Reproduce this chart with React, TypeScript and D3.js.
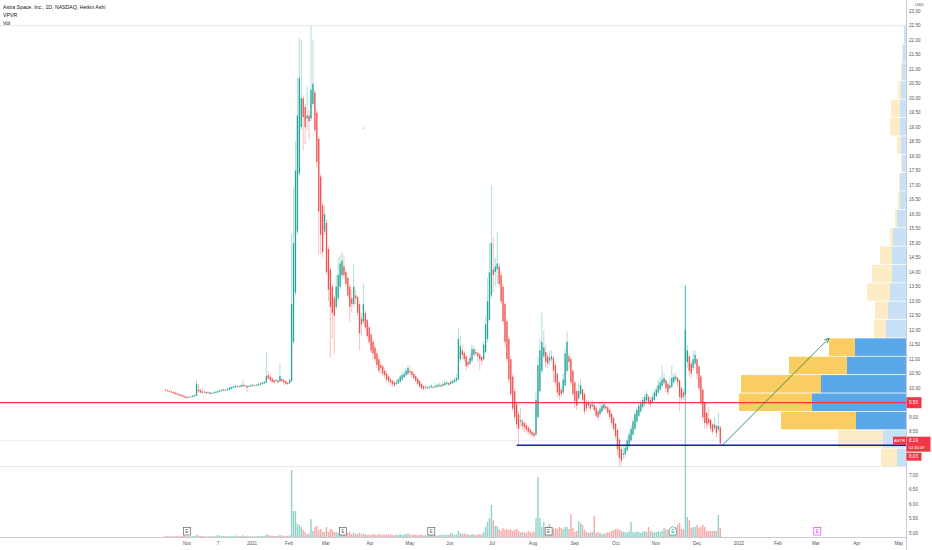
import React from "react";
import * as d3 from "d3";

// Heikin Ashi candles, one per trading day: [open, high, low, close]
const heikinAshi: [number, number, number, number][] = [
  [9.95, 9.98, 9.89, 9.92], [9.93, 9.95, 9.88, 9.9], [9.91, 9.93, 9.86, 9.88], [9.89, 9.91, 9.84, 9.86], [9.87, 9.89, 9.81, 9.83],
  [9.85, 9.87, 9.78, 9.8], [9.82, 9.84, 9.76, 9.78], [9.8, 9.82, 9.74, 9.76], [9.78, 9.8, 9.71, 9.73], [9.75, 9.77, 9.68, 9.7],
  [9.72, 9.74, 9.65, 9.67], [9.7, 9.72, 9.63, 9.66], [9.68, 9.72, 9.66, 9.7], [9.69, 9.74, 9.67, 9.72], [9.7, 9.76, 9.68, 9.74],
  [9.72, 9.78, 9.7, 9.76], [9.74, 10.3, 9.72, 10.15], [9.95, 10.15, 9.85, 9.9], [9.93, 9.98, 9.83, 9.85], [9.89, 10.0, 9.82, 9.84],
  [9.86, 9.92, 9.84, 9.88], [9.87, 9.9, 9.79, 9.82], [9.84, 9.89, 9.82, 9.86], [9.85, 9.87, 9.78, 9.8], [9.82, 9.86, 9.8, 9.84],
  [9.83, 9.88, 9.81, 9.86], [9.84, 9.9, 9.82, 9.88], [9.86, 9.93, 9.84, 9.9], [9.88, 9.95, 9.86, 9.92], [9.9, 9.97, 9.88, 9.94],
  [9.92, 9.99, 9.9, 9.96], [9.94, 9.96, 9.9, 9.93], [9.93, 10.01, 9.91, 9.98], [9.95, 10.05, 9.93, 10.02], [9.98, 10.07, 9.96, 10.04],
  [10.01, 10.08, 9.99, 10.05], [10.03, 10.17, 10.01, 10.08], [10.05, 10.11, 10.03, 10.08], [10.07, 10.09, 10.01, 10.04], [10.05, 10.13, 10.03, 10.1],
  [10.07, 10.28, 10.05, 10.12], [10.1, 10.12, 10.04, 10.07], [10.08, 10.1, 9.87, 10.02], [10.05, 10.11, 10.03, 10.08], [10.06, 10.13, 10.04, 10.1],
  [10.08, 10.15, 10.06, 10.12], [10.1, 10.13, 10.05, 10.08], [10.09, 10.15, 10.07, 10.12], [10.1, 10.18, 10.08, 10.15], [10.12, 10.2, 10.1, 10.17],
  [10.15, 10.23, 10.13, 10.2], [10.17, 10.25, 10.15, 10.22], [10.2, 11.24, 10.18, 10.42], [10.45, 10.6, 10.3, 10.34], [10.4, 10.5, 10.2, 10.28],
  [10.34, 10.38, 10.18, 10.22], [10.28, 10.3, 10.16, 10.2], [10.24, 10.32, 10.22, 10.28], [10.26, 10.28, 10.16, 10.2], [10.23, 10.86, 10.21, 10.42],
  [10.32, 10.36, 10.2, 10.25], [10.28, 10.3, 10.1, 10.2], [10.24, 10.26, 10.12, 10.15], [10.2, 10.22, 10.1, 10.14], [10.17, 10.32, 10.15, 10.28],
  [10.25, 15.3, 10.2, 12.9], [11.6, 16.9, 11.5, 15.0], [13.3, 18.5, 13.2, 17.5], [15.4, 20.7, 15.3, 19.4], [17.4, 22.1, 17.3, 20.7],
  [19.0, 22.0, 18.9, 20.0], [20.0, 20.1, 18.2, 19.35], [19.7, 19.8, 18.4, 19.0], [19.3, 20.4, 18.9, 19.4], [19.4, 19.6, 18.6, 19.2],
  [19.3, 22.5, 19.2, 20.3], [19.8, 22.0, 19.7, 20.5], [20.2, 20.3, 18.8, 18.9], [19.5, 19.6, 17.6, 17.8], [18.6, 18.7, 14.6, 16.1],
  [17.3, 17.4, 14.6, 15.3], [16.3, 16.4, 14.5, 14.7], [15.4, 16.3, 15.3, 16.0], [15.7, 15.8, 13.9, 14.0], [14.8, 14.9, 13.0, 13.4],
  [14.1, 14.2, 11.06, 12.8], [13.5, 13.6, 11.7, 12.6], [13.1, 13.2, 11.2, 12.5], [12.8, 13.9, 12.7, 13.5], [13.1, 14.5, 13.0, 13.9],
  [13.5, 14.6, 13.4, 14.3], [13.9, 14.7, 13.8, 14.4], [14.2, 14.6, 13.8, 13.9], [14.0, 14.1, 13.5, 13.6], [13.8, 13.9, 13.1, 13.2],
  [13.5, 13.6, 12.3, 12.8], [13.1, 13.4, 12.6, 12.9], [12.9, 14.3, 12.8, 13.5], [13.2, 13.4, 12.9, 13.1], [13.15, 13.2, 12.5, 12.6],
  [12.9, 13.0, 11.3, 11.9], [12.4, 12.6, 11.8, 12.2], [12.3, 13.6, 12.2, 12.9], [12.6, 12.7, 12.0, 12.1], [12.35, 12.4, 11.7, 11.8],
  [12.1, 12.2, 11.5, 11.6], [11.85, 11.9, 11.2, 11.3], [11.6, 11.7, 11.0, 11.2], [11.4, 11.5, 10.9, 11.0], [11.2, 11.3, 10.7, 10.8],
  [11.0, 11.1, 10.5, 10.6], [10.8, 10.9, 10.5, 10.7], [10.75, 10.8, 10.4, 10.5], [10.6, 10.7, 10.3, 10.45], [10.5, 10.6, 10.2, 10.3],
  [10.4, 10.45, 10.15, 10.25], [10.3, 10.35, 10.1, 10.2], [10.25, 10.3, 10.05, 10.15], [10.2, 10.25, 10.05, 10.1], [10.15, 10.3, 10.1, 10.2],
  [10.17, 10.35, 10.15, 10.3], [10.23, 10.45, 10.2, 10.4], [10.3, 10.55, 10.25, 10.45], [10.38, 10.6, 10.35, 10.5], [10.45, 10.7, 10.4, 10.6],
  [10.5, 10.8, 10.45, 10.7], [10.6, 10.75, 10.45, 10.55], [10.58, 10.6, 10.35, 10.45], [10.5, 10.55, 10.3, 10.35], [10.42, 10.45, 10.2, 10.25],
  [10.33, 10.35, 10.1, 10.15], [10.25, 10.3, 10.0, 10.05], [10.15, 10.2, 9.95, 10.0], [10.08, 10.1, 9.92, 9.98], [10.03, 10.12, 9.95, 10.05],
  [10.04, 10.1, 9.95, 10.0], [10.02, 10.1, 9.97, 10.04], [10.03, 10.15, 10.0, 10.08], [10.05, 10.08, 9.97, 10.02], [10.03, 10.2, 10.0, 10.07],
  [10.05, 10.15, 10.02, 10.1], [10.07, 10.2, 10.03, 10.12], [10.1, 10.15, 10.0, 10.06], [10.08, 10.25, 10.05, 10.14], [10.11, 10.3, 10.08, 10.18],
  [10.15, 10.25, 10.1, 10.2], [10.18, 10.22, 10.08, 10.12], [10.15, 10.3, 10.12, 10.22], [10.18, 10.32, 10.15, 10.25], [10.22, 10.38, 10.18, 10.3],
  [10.26, 10.5, 10.2, 10.35], [10.3, 12.1, 10.28, 11.7], [11.0, 11.8, 10.9, 11.45], [11.3, 11.5, 11.0, 11.15], [11.22, 11.3, 10.9, 11.0],
  [11.1, 11.15, 10.6, 10.75], [10.9, 11.0, 10.7, 10.8], [10.85, 11.2, 10.8, 11.05], [10.95, 11.5, 10.9, 11.35], [11.15, 11.45, 11.1, 11.35],
  [11.25, 11.35, 11.1, 11.2], [11.22, 11.25, 10.9, 11.1], [11.16, 11.2, 10.6, 11.0], [11.08, 11.1, 10.8, 10.95], [11.0, 11.6, 10.95, 11.5],
  [11.25, 12.5, 11.2, 12.2], [11.7, 13.8, 11.6, 13.0], [12.35, 15.0, 12.3, 14.0], [13.2, 17.0, 13.1, 15.0], [14.1, 15.2, 13.3, 13.9],
  [14.0, 14.5, 13.5, 14.2], [14.1, 15.4, 13.6, 14.3], [14.2, 14.3, 13.5, 13.6], [13.9, 14.0, 12.9, 13.0], [13.5, 13.6, 12.2, 12.3],
  [12.9, 13.0, 11.4, 11.6], [12.3, 12.4, 10.9, 11.0], [11.7, 11.8, 10.2, 10.3], [11.0, 11.1, 9.7, 9.8], [10.4, 10.5, 9.2, 9.3],
  [9.9, 10.0, 8.9, 9.0], [9.45, 9.55, 8.6, 8.75], [9.1, 9.2, 8.05, 8.6], [8.85, 9.3, 8.7, 8.9], [8.87, 8.95, 8.55, 8.7],
  [8.8, 8.85, 8.5, 8.65], [8.72, 8.8, 8.45, 8.58], [8.65, 8.7, 8.4, 8.5], [8.58, 8.62, 8.35, 8.45], [8.5, 8.55, 8.3, 8.4],
  [8.45, 8.5, 8.28, 8.35], [8.4, 9.9, 8.35, 9.6], [9.0, 11.1, 8.95, 10.8], [9.9, 11.7, 9.85, 11.3], [10.6, 12.6, 10.5, 11.6],
  [11.1, 12.0, 11.0, 11.4], [11.25, 11.5, 10.7, 10.9], [11.1, 11.2, 10.7, 10.85], [10.95, 11.3, 10.8, 11.05], [11.0, 11.3, 10.9, 11.1],
  [11.05, 11.1, 10.2, 10.6], [10.8, 10.9, 10.1, 10.2], [10.5, 10.55, 9.7, 9.85], [10.2, 10.25, 9.6, 9.75], [9.95, 10.05, 9.7, 9.8],
  [9.85, 10.5, 9.8, 10.3], [10.1, 11.4, 10.05, 11.2], [10.6, 11.95, 10.5, 11.6], [11.1, 11.2, 10.6, 10.9], [11.0, 11.05, 10.1, 10.2],
  [10.6, 10.65, 9.7, 9.8], [10.2, 10.25, 9.3, 9.55], [9.9, 9.95, 9.25, 9.4], [9.65, 10.2, 9.6, 9.9], [9.8, 10.3, 9.75, 10.1],
  [9.95, 10.0, 9.5, 9.6], [9.8, 9.85, 9.1, 9.2], [9.5, 9.6, 9.2, 9.3], [9.4, 9.6, 9.3, 9.5], [9.45, 9.55, 9.2, 9.3],
  [9.38, 9.6, 9.3, 9.45], [9.42, 9.5, 9.15, 9.25], [9.33, 9.4, 8.95, 9.05], [9.2, 9.25, 8.9, 9.0], [9.1, 9.5, 9.05, 9.3],
  [9.2, 9.55, 9.15, 9.4], [9.3, 9.5, 9.25, 9.45], [9.38, 9.45, 9.2, 9.3], [9.34, 9.4, 9.1, 9.15], [9.25, 9.3, 8.9, 9.0],
  [9.12, 9.15, 8.7, 8.8], [8.96, 9.0, 8.5, 8.6], [8.78, 8.8, 8.25, 8.35], [8.56, 8.6, 7.7, 7.9], [8.23, 8.3, 7.3, 7.6],
  [7.9, 8.0, 7.35, 7.5], [7.7, 8.0, 7.55, 7.75], [7.72, 8.1, 7.6, 7.95], [7.85, 8.3, 7.8, 8.2], [8.0, 8.5, 7.95, 8.4],
  [8.2, 8.7, 8.15, 8.6], [8.4, 8.95, 8.35, 8.85], [8.6, 9.2, 8.55, 9.1], [8.85, 9.35, 8.8, 9.25], [9.05, 9.5, 9.0, 9.4],
  [9.2, 9.6, 9.15, 9.5], [9.35, 9.7, 9.3, 9.6], [9.45, 9.8, 9.4, 9.7], [9.58, 9.9, 9.5, 9.8], [9.7, 9.75, 9.4, 9.5],
  [9.6, 9.7, 9.35, 9.45], [9.52, 9.8, 9.5, 9.7], [9.6, 9.95, 9.55, 9.85], [9.72, 10.05, 9.7, 9.95], [9.85, 10.3, 9.8, 10.1],
  [9.95, 10.4, 9.9, 10.2], [10.08, 10.8, 10.0, 10.3], [10.18, 10.5, 10.1, 10.35], [10.28, 10.3, 9.85, 10.0], [10.15, 10.2, 9.75, 9.85],
  [10.0, 10.4, 9.95, 10.1], [10.05, 10.8, 10.0, 10.35], [10.2, 10.5, 10.15, 10.4], [10.3, 10.55, 10.25, 10.4], [10.35, 10.4, 10.05, 10.2],
  [10.28, 10.3, 9.2, 9.7], [10.0, 10.05, 9.5, 9.65], [9.85, 9.95, 9.6, 9.7], [9.8, 13.5, 9.75, 12.0], [10.9, 11.5, 10.7, 11.3],
  [11.1, 11.2, 10.4, 10.6], [10.85, 10.95, 10.35, 10.5], [10.7, 11.3, 10.6, 11.0], [10.85, 11.3, 10.8, 11.15], [11.0, 11.05, 10.3, 10.5],
  [10.75, 10.8, 9.9, 10.0], [10.4, 10.45, 9.4, 9.5], [9.95, 10.0, 8.9, 9.0], [9.5, 9.55, 8.6, 8.8], [9.15, 9.2, 8.6, 8.75],
  [8.95, 9.35, 8.7, 8.8], [8.9, 8.95, 8.5, 8.6], [8.75, 8.8, 8.4, 8.5], [8.62, 9.0, 8.55, 8.75], [8.7, 8.75, 8.3, 8.45],
  [8.58, 9.15, 8.5, 8.7], [8.65, 8.7, 8.03, 8.1],
];

// daily volume, millions of shares
const volumeM = [
  0.4, 0.3, 0.3, 0.4, 0.3, 0.3, 0.4, 0.3, 0.3, 0.4, 0.5,
  0.4, 0.3, 0.3, 0.3, 0.4, 0.9, 0.6, 0.4, 0.4, 0.3,
  0.3, 0.3, 0.4, 0.3, 0.3, 0.5, 0.8, 0.6, 0.4, 0.4,
  0.3, 0.4, 0.4, 0.3, 0.4, 0.6, 0.4, 0.3, 0.4, 0.7,
  0.4, 0.5, 0.3, 0.3, 0.4, 0.3, 0.3, 0.4, 0.4, 0.5,
  0.4, 1.0, 0.8, 0.6, 0.5, 0.4, 0.4, 0.4, 0.8, 0.6,
  0.5, 0.4, 0.5, 0.6,
  26.6, 10.3, 10.3, 5.2, 4.8, 4.0, 2.8, 2.0, 1.2, 1.5,
  7.1, 2.4, 4.0, 4.4, 2.8, 3.2, 2.0, 2.0, 4.0, 2.0,
  3.2, 2.8, 2.0, 2.0, 1.6, 1.4, 1.2, 1.6, 1.2, 1.6,
  2.0, 1.2, 1.8, 1.2, 1.0, 1.6, 1.0, 1.4, 1.0, 0.8,
  1.0, 0.8, 1.2, 1.0, 0.8, 1.4, 0.8, 1.0, 0.8, 1.2,
  0.8, 1.0, 0.8, 0.7, 1.0, 0.8, 1.2, 0.8, 1.0, 1.2,
  1.4, 1.0, 0.8, 1.0, 0.8, 0.7, 0.8, 1.0, 0.6, 0.8,
  0.6, 0.8, 1.2, 0.7, 0.8, 0.6, 0.7, 0.8, 1.0, 0.8,
  1.0, 0.8, 1.6, 1.2, 0.8, 1.0,
  2.4, 1.6, 1.2, 1.4, 1.2, 1.0, 0.8, 1.2, 1.0, 0.8,
  1.0, 1.2, 1.0, 2.0, 4.0, 6.0, 7.5, 12.7,
  6.7, 4.4, 4.4, 3.2, 2.4, 3.6, 2.8, 3.2, 2.8, 3.0,
  2.4, 2.8, 3.2, 2.4, 1.8, 2.0, 1.8, 1.6, 2.4, 2.0, 1.8, 2.2,
  7.5, 23.8, 7.5, 4.0, 6.0, 3.6, 4.4, 5.2, 2.8, 3.2,
  3.6, 3.2, 4.0, 3.6, 3.2, 4.0, 4.0, 3.2, 9.1, 3.6,
  2.0, 2.4, 6.3, 5.6, 4.8, 2.8, 2.0, 1.6, 2.0, 2.0,
  8.3, 1.6, 2.0, 1.6, 1.2, 1.4, 1.6, 2.0, 1.8, 2.4,
  2.8, 3.2, 3.2, 2.8, 2.4, 2.0, 2.0, 1.8, 2.2, 6.0,
  2.0, 1.8, 2.2, 2.0, 1.6, 2.0, 2.4, 2.0, 4.0, 2.4,
  2.0, 1.8, 2.0, 2.2, 2.0, 2.4, 3.6, 3.0, 2.8, 3.0,
  2.4, 2.4, 4.0, 4.8, 5.6, 3.2, 3.0, 100, 7.9, 6.7,
  3.6, 4.0, 4.0, 4.8, 3.6, 4.0, 4.8, 4.0, 2.4, 2.4,
  2.4, 2.4, 2.4, 2.4, 8.7, 3.6,
];

// time axis: label and bar index it sits on
const timeTickLabels = ["Nov", "7", "2021", "Feb", "Mar", "Apr", "May", "Jun", "Jul", "Aug", "Sep", "Oct", "Nov", "Dec", "2022", "Feb", "Mar", "Apr", "May"];
const timeTickBars = [11.1, 27.1, 44.6, 63.7, 82.7, 105.4, 126, 146.6, 168.3, 189.4, 211, 232.2, 252.8, 274, 295.6, 315.7, 335.3, 356.4, 378];

// visible range volume profile, 24 rows from low to high (up / down volume)
const profileUp = [9, 23, 50, 94, 85, 59, 51, 20, 18, 16, 14, 14, 13, 9, 6, 6, 4, 5, 6, 6, 5, 4, 3, 2];
const profileDown = [16, 45, 75, 73, 80, 58, 26, 12, 13, 23, 20, 12, 3, 2, 2, 1, 1, 4, 10, 9, 3, 1, 1, 0];
const valueAreaRows = [2, 6];

const earningsBars = [11, 91.5, 137, 197.5, 261.5];
const upcomingEarningsBar = 336;

const resistancePrice = 9.5;
const supportPrice = 8.03;
const supportStartBar = 181;
const lastPrice = 8.19;
const arrowFrom = { bar: 287, price: 8.03 };
const arrowTo = { bar: 342, price: 11.72 };

const W = 932;
const H = 550;
const plotRight = 906;
const plotBottom = 537;
const UP = "#26a69a";
const DOWN = "#ef5350";
const RED = "#f23645";
const FONT = "'Liberation Sans', Arial, sans-serif";

export default function App() {
  const x = d3.scaleLinear().domain([0, heikinAshi.length - 1]).range([165.5, 720.3]);
  const y = d3.scaleLinear().domain([22.5, 5]).range([25.7, 533.2]);
  const vol = d3.scaleLinear().domain([0, d3.max(volumeM) ?? 1]).range([plotBottom, 285]);

  const lows = heikinAshi.map((d) => d[2]);
  const highs = heikinAshi.map((d) => d[1]);
  const rangeLow = d3.min(lows) ?? 0;
  const rangeHigh = d3.max(highs) ?? 0;
  const rowCount = profileUp.length;
  const rowH = (rangeHigh - rangeLow) / rowCount;
  const totals = profileUp.map((u, i) => u + profileDown[i]);
  const vp = d3.scaleLinear().domain([0, d3.max(totals) ?? 1]).range([0, 167]);

  // price scale labels; the ones hidden behind the price tags are left out
  const lastTop = y(lastPrice) - 4;
  const lastBottom = y(lastPrice) + 11;
  const priceTicks = d3
    .range(5, 23.01, 0.5)
    .filter((p) => Math.abs(p - resistancePrice) > 0.01)
    .filter((p) => y(p) < lastTop - 2 || y(p) > lastBottom + 12);

  const ax = x(arrowFrom.bar), ay = y(arrowFrom.price);
  const bx = x(arrowTo.bar), by = y(arrowTo.price);

  const label = (p: number) => p.toFixed(2);

  return (
    <svg width={W} height={H} style={{ position: "absolute", left: 0, top: 0, background: "#fff" }} fontFamily={FONT}>
      <defs>
        <marker id="arr" viewBox="0 0 10 10" refX="9" refY="5" markerWidth="7" markerHeight="7" orient="auto-start-reverse">
          <path d="M1,1 L9,5 L1,9" fill="none" stroke="#1b7f3b" strokeWidth={1.4} />
        </marker>
      </defs>
      <rect width={W} height={H} fill="#ffffff" />

      {/* volume profile */}
      {profileUp.map((u, i) => {
        const lo = rangeLow + i * rowH;
        const top = y(lo + rowH);
        const h = y(lo) - top - 0.8;
        const inVA = i >= valueAreaRows[0] && i <= valueAreaRows[1];
        const wu = vp(u);
        const wd = vp(profileDown[i]);
        return (
          <g key={i}>
            <rect x={plotRight - wu} y={top + 0.4} width={wu} height={h} fill={inVA ? "#5aa7ea" : "#c9e1f6"} />
            <rect x={plotRight - wu - wd} y={top + 0.4} width={wd} height={h} fill={inVA ? "#f9cd61" : "#fdecc6"} />
          </g>
        );
      })}

      {/* range lines */}
      <line x1={0} x2={plotRight} y1={y(rangeHigh)} y2={y(rangeHigh)} stroke="#dfe1e6" strokeWidth={0.8} />
      <line x1={0} x2={plotRight} y1={y(rangeLow)} y2={y(rangeLow)} stroke="#dfe1e6" strokeWidth={0.8} />
      <line x1={0} x2={plotRight} y1={y(lastPrice)} y2={y(lastPrice)} stroke="#cfd1d6" strokeWidth={0.7} strokeDasharray="1,1" />

      {/* volume */}
      {volumeM.map((v, i) => {
        const c = heikinAshi[i];
        const up = c[3] >= c[0];
        const top = vol(v);
        return (
          <rect key={i} x={x(i) - 0.7} y={top} width={1.4} height={Math.max(0.6, plotBottom - top)} fill={up ? UP : DOWN} fillOpacity={0.5} />
        );
      })}

      {/* candles */}
      {heikinAshi.map(([o, h, l, c], i) => {
        const up = c >= o;
        const col = up ? UP : DOWN;
        const cx = x(i);
        const t = y(Math.max(o, c));
        const b = y(Math.min(o, c));
        return (
          <g key={i}>
            <line x1={cx} x2={cx} y1={y(h)} y2={y(l)} stroke={col} strokeOpacity={0.45} strokeWidth={0.8} />
            <rect x={cx - 0.65} y={t} width={1.3} height={Math.max(0.8, b - t)} fill={col} />
          </g>
        );
      })}

      {/* horizontal levels */}
      <line x1={0} x2={plotRight} y1={y(resistancePrice)} y2={y(resistancePrice)} stroke={RED} strokeWidth={1.3} />
      <line x1={x(supportStartBar)} x2={plotRight} y1={y(supportPrice)} y2={y(supportPrice)} stroke="#14209a" strokeWidth={1.5} />

      {/* arrow */}
      <line x1={ax} y1={ay} x2={bx} y2={by} stroke="#1b7f3b" strokeWidth={0.8} markerEnd="url(#arr)" />

      <circle cx={x(102)} cy={y(18.97)} r={0.6} fill="#8a8d96" />

      {/* earnings */}
      {earningsBars.map((b, i) => {
        const cx = x(b);
        const last = i === earningsBars.length - 1;
        const col = last ? UP : "#5d606b";
        return (
          <g key={i}>
            {last ? (
              <path d={`M${cx - 3.5},529 L${cx},526.5 L${cx + 3.5},529 L${cx + 3.5},535 L${cx - 3.5},535 Z`} fill="#fff" stroke={col} strokeWidth={0.7} />
            ) : (
              <rect x={cx - 3.5} y={527.5} width={7} height={7.5} fill="#fff" stroke={col} strokeWidth={0.7} />
            )}
            <text x={cx} y={533} fontSize={4.6} textAnchor="middle" fill={col}>E</text>
          </g>
        );
      })}
      <g>
        <rect x={x(upcomingEarningsBar) - 3.5} y={527.5} width={7} height={7.5} fill="#fff" stroke="#e040fb" strokeWidth={0.7} />
        <text x={x(upcomingEarningsBar)} y={533} fontSize={4.6} textAnchor="middle" fill="#e040fb">E</text>
      </g>

      {/* axes */}
      <line x1={0} x2={plotRight} y1={plotBottom + 0.5} y2={plotBottom + 0.5} stroke="#b2b5be" strokeWidth={0.7} />
      <line x1={plotRight + 0.5} x2={plotRight + 0.5} y1={0} y2={H} stroke="#b2b5be" strokeWidth={0.7} />

      {priceTicks.map((p) => (
        <text key={p} x={909} y={y(p) + 1.6} fontSize={4.6} fill="#50535e">{label(p)}</text>
      ))}
      <text x={915} y={6.2} fontSize={4.2} fill="#50535e">USD</text>

      {timeTickLabels.map((t, i) => (
        <text key={i} x={x(timeTickBars[i])} y={544.5} fontSize={4.6} textAnchor="middle" fill="#50535e">{t}</text>
      ))}

      {/* price tags */}
      <rect x={906.5} y={y(resistancePrice) - 5.5} width={15} height={11} fill={RED} />
      <text x={909} y={y(resistancePrice) + 1.6} fontSize={4.6} fill="#fff">{label(resistancePrice)}</text>

      <rect x={893} y={y(lastPrice) - 4} width={13} height={8} fill={RED} />
      <text x={899.5} y={y(lastPrice) + 1.5} fontSize={4.2} fill="#fff" textAnchor="middle">ASTR</text>
      <rect x={906.5} y={lastTop} width={24} height={15} fill={RED} />
      <text x={909} y={y(lastPrice) + 1.6} fontSize={4.6} fill="#fff">{label(lastPrice)}</text>
      <text x={909} y={y(lastPrice) + 8.6} fontSize={4} fill="#fff">02:40:49</text>
      <rect x={906.5} y={lastBottom + 1} width={15} height={8} fill={RED} />
      <text x={909} y={lastBottom + 6.6} fontSize={4.6} fill="#fff">{label(supportPrice)}</text>

      {/* legend */}
      <text x={3} y={8.5} fontSize={5.2} fill="#131722">Astra Space, Inc., 1D, NASDAQ, Heikin Ashi</text>
      <text x={3} y={16.5} fontSize={5.2} fill="#131722">VPVR</text>
      <text x={3} y={24.5} fontSize={5.2} fill="#131722">Vol</text>
    </svg>
  );
}
